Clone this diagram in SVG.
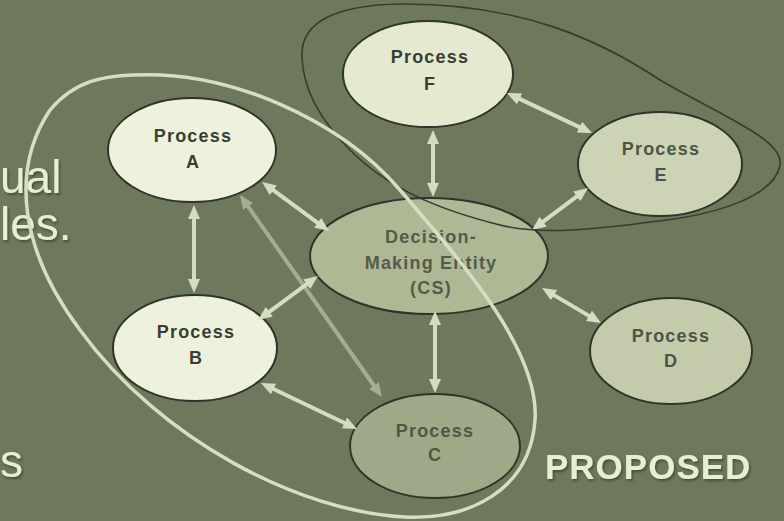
<svg xmlns="http://www.w3.org/2000/svg" width="784" height="521" viewBox="0 0 784 521">
  <defs>
    <marker id="ah" viewBox="0 0 14 12" markerWidth="14" markerHeight="12" refX="6" refY="6" markerUnits="userSpaceOnUse" orient="auto-start-reverse">
      <path d="M0,0 L14,6 L0,12 Z" fill="#d6dcc2"/>
    </marker>
    <marker id="ahf" viewBox="0 0 14 12" markerWidth="14" markerHeight="12" refX="6" refY="6" markerUnits="userSpaceOnUse" orient="auto-start-reverse">
      <path d="M0,0 L14,6 L0,12 Z" fill="#b3bb9f"/>
    </marker>
    <filter id="sh" x="-10%" y="-10%" width="130%" height="140%">
      <feDropShadow dx="1.5" dy="2" stdDeviation="1" flood-color="#2c3326" flood-opacity="0.6"/>
    </filter>
  </defs>
  <style>
    .node { stroke: #2e3429; stroke-width: 2; }
    .lbl { font-family: "Liberation Sans", Arial, sans-serif; font-size: 18px; font-weight: bold; text-anchor: middle; letter-spacing: 1.2px; }
    .conn { stroke: #d6dcc2; stroke-width: 4; fill: none; marker-start: url(#ah); marker-end: url(#ah); }
    .faint { stroke: #b3bb9f; stroke-width: 4; fill: none; marker-start: url(#ahf); marker-end: url(#ahf); opacity: 0.8; }
    .big { font-family: "Liberation Sans", Arial, sans-serif; fill: #e6eed6; filter: url(#sh); }
  </style>

  <rect x="0" y="0" width="784" height="521" fill="#6d785c"/>

  <!-- left partial slide text -->
  <text class="big" x="0" y="193" font-size="46">ual</text>
  <text class="big" x="0" y="240" font-size="46">les.</text>
  <text class="big" x="0" y="477" font-size="46">s</text>
  <text class="big" x="545" y="479" font-size="35" font-weight="bold" letter-spacing="1">PROPOSED</text>

  <g id="node-F">
    <ellipse class="node" cx="428" cy="74" rx="85" ry="53" fill="#e4e9cf"/>
    <text class="lbl" x="430" y="63" fill="#383e33">Process</text>
    <text class="lbl" x="430" y="90" fill="#383e33">F</text>
  </g>
  <g id="node-E">
    <ellipse class="node" cx="660" cy="164" rx="82" ry="52" fill="#cdd4b5"/>
    <text class="lbl" x="661" y="155" fill="#4c5446">Process</text>
    <text class="lbl" x="661" y="181" fill="#4c5446">E</text>
  </g>
  <g id="node-A">
    <ellipse class="node" cx="192" cy="150" rx="84" ry="52" fill="#eef2dc"/>
    <text class="lbl" x="193" y="142" fill="#383e33">Process</text>
    <text class="lbl" x="193" y="168" fill="#383e33">A</text>
  </g>
  <g id="node-B">
    <ellipse class="node" cx="195" cy="348" rx="82" ry="53" fill="#eef2dc"/>
    <text class="lbl" x="196" y="338" fill="#383e33">Process</text>
    <text class="lbl" x="196" y="364" fill="#383e33">B</text>
  </g>
  <g id="node-CS">
    <ellipse class="node" cx="429" cy="256" rx="119" ry="58" fill="#aeb895"/>
    <text class="lbl" x="431" y="243" fill="#535c4b">Decision-</text>
    <text class="lbl" x="431" y="269" fill="#535c4b">Making Entity</text>
    <text class="lbl" x="431" y="294" fill="#535c4b">(CS)</text>
  </g>
  <g id="node-D">
    <ellipse class="node" cx="671" cy="351" rx="81" ry="53" fill="#c4cbaa"/>
    <text class="lbl" x="671" y="342" fill="#4c5446">Process</text>
    <text class="lbl" x="671" y="367" fill="#4c5446">D</text>
  </g>
  <g id="node-C">
    <ellipse class="node" cx="435" cy="446" rx="85" ry="52" fill="#9fa987"/>
    <text class="lbl" x="435" y="437" fill="#4e5746">Process</text>
    <text class="lbl" x="435" y="461" fill="#4e5746">C</text>
  </g>

  <g id="connectors">
    <line class="faint" x1="244.6" y1="201.5" x2="377.4" y2="390.5"/>
    <line class="conn" x1="433" y1="138" x2="433" y2="189"/>
    <line class="conn" x1="514.2" y1="96.4" x2="584.8" y2="129.6"/>
    <line class="conn" x1="581.6" y1="192.8" x2="538.4" y2="225.2"/>
    <line class="conn" x1="268.5" y1="186.7" x2="322.5" y2="226.3"/>
    <line class="conn" x1="194" y1="213" x2="194" y2="285"/>
    <line class="conn" x1="311.5" y1="280.7" x2="264.5" y2="315.3"/>
    <line class="conn" x1="435" y1="319" x2="435" y2="385"/>
    <line class="conn" x1="548.9" y1="292.1" x2="594.1" y2="318.9"/>
    <line class="conn" x1="268.2" y1="386.5" x2="349.8" y2="425.5"/>
  </g>

  <g id="groupings">
    <path d="M302,57 C300,20 340,5 400,4 C520,3 600,40 660,80 C720,115 785,140 780,165 C775,195 720,215 650,222 C590,230 540,235 500,225 C440,210 390,190 350,150 C320,120 303,90 302,57 Z" fill="none" stroke="#353c30" stroke-width="1.6"/>
    <path d="M133,75 C230,70 340,120 400,190 C460,260 540,350 535,420 C530,490 470,520 405,517 C300,512 160,440 80,330 C20,250 10,170 50,110 C75,80 105,76 133,75 Z" fill="none" stroke="#d6dec2" stroke-width="3.5"/>
  </g>
</svg>
